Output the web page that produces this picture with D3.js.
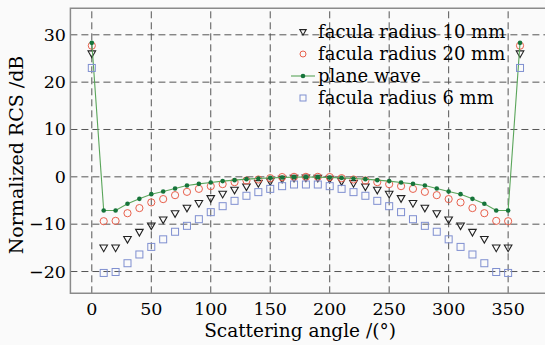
<!DOCTYPE html>
<html>
<head>
<meta charset="utf-8">
<script src="https://cdn.jsdelivr.net/npm/d3@7"></script>
<style>
  html, body { margin: 0; padding: 0; background: #fafafa; }
  svg { display: block; }
  text { font-family: "DejaVu Serif", serif; fill: #000; }
</style>
</head>
<body>
<div id="chart"></div>
<script>
// scattering angle, 0..360 step 10
const angles = [0, 10, 20, 30, 40, 50, 60, 70, 80, 90, 100, 110, 120, 130, 140, 150, 160, 170, 180,
    190, 200, 210, 220, 230, 240, 250, 260, 270, 280, 290, 300, 310, 320, 330, 340, 350, 360];

const radius10 = [26.0, -15.0, -15.0, -13.2, -11.7, -10.35, -9.08, -7.75, -6.6, -5.6, -4.57, -3.66, -2.8, -2.1, -1.4, -0.98, -0.49, -0.28, -0.2,
    -0.28, -0.49, -0.98, -1.4, -2.1, -2.8, -3.66, -4.57, -5.6, -6.6, -7.75, -9.08, -10.35, -11.7, -13.2, -15.0, -15.0, 26.0];

const radius20 = [27.7, -9.37, -9.3, -7.68, -6.6, -5.4, -4.7, -3.87, -3.17, -2.54, -1.97, -1.54, -1.12, -0.77, -0.56, -0.28, -0.05, 0.0, 0.0,
    0.0, -0.05, -0.28, -0.56, -0.77, -1.12, -1.54, -1.97, -2.54, -3.17, -3.87, -4.7, -5.4, -6.6, -7.68, -9.3, -9.37, 27.7];

const planeWave = [28.3, -7.1, -7.1, -5.7, -4.65, -3.66, -3.1, -2.46, -1.83, -1.48, -1.2, -0.9, -0.7, -0.49, -0.35, -0.21, -0.14, -0.07, -0.05,
    -0.07, -0.14, -0.21, -0.35, -0.49, -0.7, -0.9, -1.2, -1.48, -1.83, -2.46, -3.1, -3.66, -4.65, -5.7, -7.1, -7.1, 28.3];

const radius6 = [23.0, -20.3, -20.1, -18.25, -16.4, -14.8, -13.2, -11.6, -10.35, -8.95, -7.46, -6.2, -5.07, -4.0, -3.23, -2.54, -1.97, -1.62, -1.62,
    -1.62, -1.97, -2.54, -3.23, -4.0, -5.07, -6.2, -7.46, -8.95, -10.35, -11.6, -13.2, -14.8, -16.4, -18.25, -20.1, -20.3, 23.0];

const xTicks = [0, 50, 100, 150, 200, 250, 300, 350];
const yTicks = [-20, -10, 0, 10, 20, 30];
const legendLabels = ["facula radius 10 mm", "facula radius 20 mm", "plane wave", "facula radius 6 mm"];

const W = 545, H = 345;
const plotL = 70.4, plotT = 8.3, plotB = 293.3;

const svg = d3.select("#chart").append("svg")
    .attr("width", W)
    .attr("height", H);

const x = d3.scaleLinear().domain([-18, 381]).range([plotL, W]);
const y = d3.scaleLinear().domain([-24.6, 35.6]).range([plotB, plotT]);

// grid
const grid = svg.append("g")
    .attr("stroke", "#555")
    .attr("stroke-width", 1)
    .attr("stroke-dasharray", "7,4");

grid.selectAll(".vg").data(xTicks).enter().append("line")
    .attr("x1", d => x(d)).attr("x2", d => x(d))
    .attr("y1", plotB).attr("y2", plotT);

grid.selectAll(".hg").data(yTicks).enter().append("line")
    .attr("y1", d => y(d)).attr("y2", d => y(d))
    .attr("x1", plotL).attr("x2", W);

// frame (no right edge, it is cut off)
svg.append("path")
    .attr("d", `M${W},${plotT}H${plotL}V${plotB}H${W}`)
    .attr("fill", "none")
    .attr("stroke", "#8a8a8a")
    .attr("stroke-width", 1.5);

// tick labels
svg.selectAll(".xt").data(xTicks).enter().append("text")
    .attr("x", d => x(d))
    .attr("y", 315)
    .attr("text-anchor", "middle")
    .attr("font-size", 17.5)
    .text(d => d);

svg.selectAll(".yt").data(yTicks).enter().append("text")
    .attr("x", 66)
    .attr("y", d => y(d) + 6)
    .attr("text-anchor", "end")
    .attr("font-size", 17.5)
    .text(d => d < 0 ? "\u2212" + Math.abs(d) : d);

svg.append("text")
    .attr("x", 300)
    .attr("y", 337)
    .attr("text-anchor", "middle")
    .attr("font-size", 18.5)
    .text("Scattering angle /(\u00b0)");

svg.append("text")
    .attr("transform", `translate(23,155) rotate(-90)`)
    .attr("text-anchor", "middle")
    .attr("font-size", 19)
    .text("Normalized RCS /dB");

// marks
const tri = s => `M${-s},${-s * 0.75}L${s},${-s * 0.75}L0,${s}Z`;

const gTri = svg.append("g");
gTri.selectAll("path").data(angles.map((a, i) => [a, radius10[i]])).enter().append("path")
    .attr("d", tri(3.8))
    .attr("transform", d => `translate(${x(d[0])},${y(d[1])})`)
    .attr("fill", "none")
    .attr("stroke", "#222")
    .attr("stroke-width", 1.1);

const gCirc = svg.append("g");
gCirc.selectAll("circle").data(angles.map((a, i) => [a, radius20[i]])).enter().append("circle")
    .attr("cx", d => x(d[0]))
    .attr("cy", d => y(d[1]))
    .attr("r", 3.6)
    .attr("fill", "none")
    .attr("stroke", "#e8604c")
    .attr("stroke-width", 1);

const line = d3.line().x(d => x(d[0])).y(d => y(d[1]));
const pw = angles.map((a, i) => [a, planeWave[i]]);
svg.append("path")
    .datum(pw)
    .attr("d", line)
    .attr("fill", "none")
    .attr("stroke", "#5aa55a")
    .attr("stroke-width", 1.1);
svg.append("g").selectAll("circle").data(pw).enter().append("circle")
    .attr("cx", d => x(d[0]))
    .attr("cy", d => y(d[1]))
    .attr("r", 2.3)
    .attr("fill", "#16743a");

svg.append("g").selectAll("rect").data(angles.map((a, i) => [a, radius6[i]])).enter().append("rect")
    .attr("x", d => x(d[0]) - 3.5)
    .attr("y", d => y(d[1]) - 3.5)
    .attr("width", 7)
    .attr("height", 7)
    .attr("fill", "none")
    .attr("stroke", "#7f8fd0")
    .attr("stroke-width", 1);

// legend
const lx = 303, tx = 318, ly = [32, 54, 76, 98];
const leg = svg.append("g");
leg.append("path").attr("d", tri(3.2)).attr("transform", `translate(${lx},${ly[0]})`)
    .attr("fill", "none").attr("stroke", "#222").attr("stroke-width", 1.1);
leg.append("circle").attr("cx", lx).attr("cy", ly[1]).attr("r", 3)
    .attr("fill", "none").attr("stroke", "#e8604c");
leg.append("line").attr("x1", lx - 12).attr("x2", lx + 12).attr("y1", ly[2]).attr("y2", ly[2])
    .attr("stroke", "#5aa55a").attr("stroke-width", 1.1);
leg.append("circle").attr("cx", lx).attr("cy", ly[2]).attr("r", 2.3).attr("fill", "#16743a");
leg.append("rect").attr("x", lx - 3).attr("y", ly[3] - 3).attr("width", 6).attr("height", 6)
    .attr("fill", "none").attr("stroke", "#7f8fd0");

leg.selectAll("text").data(legendLabels).enter().append("text")
    .attr("x", tx)
    .attr("y", (d, i) => ly[i] + 6)
    .attr("font-size", 18)
    .text(d => d);
</script>
</body>
</html>
